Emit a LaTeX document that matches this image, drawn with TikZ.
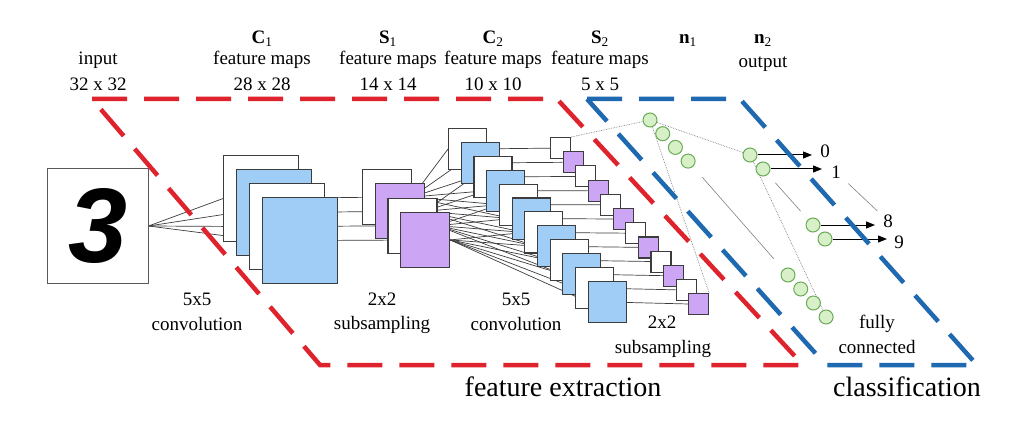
\documentclass[tikz,border=0pt]{standalone}
\usepackage{fontspec}
\setmainfont{Liberation Serif}
\newfontfamily\digitfont{Liberation Sans}
\usetikzlibrary{arrows.meta,backgrounds}
\definecolor{redline}{RGB}{222,35,45}
\definecolor{blueline}{RGB}{30,105,175}
\definecolor{mapblue}{RGB}{160,205,245}
\definecolor{mappurple}{RGB}{205,165,245}
\definecolor{cellgreen}{RGB}{215,240,200}
\definecolor{rimgreen}{RGB}{105,170,85}
\definecolor{framegray}{RGB}{60,60,60}

\begin{document}
\begin{tikzpicture}[x=1pt,y=-1pt,
  lbl/.style={font=\fontsize{19}{22}\selectfont,anchor=base},
  big/.style={font=\fontsize{28}{32}\selectfont,anchor=base},
  num/.style={font=\fontsize{19}{22}\selectfont,inner sep=0pt},
  fmap/.style={draw=framegray,line width=1.1pt,inner sep=0pt,anchor=north west},
  wire/.style={draw=framegray,line width=0.7pt},
  link/.style={draw=gray,line width=0.7pt,densely dotted},
  ellip/.style={draw=gray,line width=0.6pt,shorten <=14pt,shorten >=14pt},
  arrowline/.style={draw=black,line width=1pt,-{Triangle[length=9pt,width=7pt]}},
  neuron/.style={circle,draw=rimgreen,fill=cellgreen,line width=1pt,minimum size=14pt,inner sep=0pt},
  region/.style={line width=4.5pt,dash pattern=on 35pt off 17pt}]
\useasboundingbox (0,0) rectangle (1025,422);

% input image
\node[draw=black!65,line width=1pt,minimum width=101pt,minimum height=114pt,inner sep=0pt] (input) at (97.5,226)
  {\digitfont\bfseries\itshape\fontsize{106}{106}\selectfont 3};

% C1 and S1
\foreach \i in {1,...,4} {
  \ifodd\i \def\shade{white}\else\def\shade{mapblue}\fi
  \node[fmap,fill=\shade,minimum width=75pt,minimum height=86pt] (c1-\i) at ({223+13*(\i-1)},{155+14*(\i-1)}) {};
}
\foreach \i in {1,...,4} {
  \ifodd\i \def\shade{white}\else\def\shade{mappurple}\fi
  \node[fmap,fill=\shade,minimum width=49pt,minimum height=55pt] (s1-\i) at ({362+12.7*(\i-1)},{169+14.3*(\i-1)}) {};
}

% C2 and S2
\foreach \i in {1,...,12} {
  \ifodd\i \def\shade{white}\else\def\shade{mapblue}\fi
  \node[fmap,fill=\shade,minimum width=38pt,minimum height=41pt] (c2-\i) at ({448+12.7*(\i-1)},{128+13.9*(\i-1)}) {};
}
\foreach \i in {1,...,12} {
  \ifodd\i \def\shade{white}\else\def\shade{mappurple}\fi
  \node[fmap,fill=\shade,minimum width=20pt,minimum height=21pt] (s2-\i) at ({550+12.55*(\i-1)},{137+14.2*(\i-1)}) {};
}

% n1 and n2
\foreach \i in {1,...,4}
  \node[neuron] (h\i) at ({650+12.7*(\i-1)},{120+13.7*(\i-1)}) {};
\foreach \i in {5,...,8}
  \node[neuron] (h\i) at ({788+12.7*(\i-5)},{275+14*(\i-5)}) {};
\node[neuron] (o0) at (750,155) {};
\node[neuron] (o1) at (763,169) {};
\node[neuron] (o8) at (813,225) {};
\node[neuron] (o9) at (825,239) {};

\node[num] (d0) at (825,151) {0};
\node[num] (d1) at (836,172) {1};
\node[num] (d8) at (888,221) {8};
\node[num] (d9) at (899,242) {9};
\coordinate (t0) at (812,155);
\coordinate (t1) at (822,169);
\coordinate (t8) at (875,225);
\coordinate (t9) at (887,239);
\draw[arrowline] (o0) -- (t0);
\draw[arrowline] (o1) -- (t1);
\draw[arrowline] (o8) -- (t8);
\draw[arrowline] (o9) -- (t9);

\begin{scope}[on background layer]
  \foreach \i in {1,...,4} \draw[wire] (input.east) -- (c1-\i.west);
  \foreach \i in {1,...,4} \draw[wire] (c1-\i) -- (s1-\i);
  \foreach \j/\a/\b in {1/1/6,2/3/8,3/5/10,4/7/12}
    \foreach \i in {\a,...,\b} \draw[wire] (s1-\j.east) -- (c2-\i.west);
  \foreach \i in {1,...,12} \draw[wire] (c2-\i) -- (s2-\i);
  \draw[link] (s2-1.north east) -- (h1);
  \draw[link] (s2-12.north east) -- (h1);
  \draw[link] (h1) -- (o0);
  \draw[link] (o0) -- (h8);
  \draw[ellip] (h4) -- (h5);
  \draw[ellip,shorten <=11pt,shorten >=11pt] (o1) -- (o8);
  \draw[ellip,shorten <=10pt,shorten >=8pt] (d1) -- (d8);
\end{scope}

% labels on top
\node[lbl] (inp) at (98,65) {input};
\node[lbl] (inpsz) at (98,91) {32 x 32};
\foreach \x/\hd/\sz [count=\k] in {262/{\textbf{C}\textsubscript{1}}/28 x 28,
    388/{\textbf{S}\textsubscript{1}}/14 x 14, 493/{\textbf{C}\textsubscript{2}}/10 x 10,
    600/{\textbf{S}\textsubscript{2}}/5 x 5} {
  \node[lbl] (head\k) at (\x,44) {\hd};
  \node[lbl] (fm\k) at (\x,65) {feature maps};
  \node[lbl] (dim\k) at (\x,91) {\sz};
}
\node[lbl] (n1) at (688,44) {\textbf{n}\textsubscript{1}};
\node[lbl] (n2) at (763,44) {\textbf{n}\textsubscript{2}};
\node[lbl] (outp) at (763,68) {output};

\node[lbl] (k1) at (197,305) {5x5};
\node[lbl] (op1) at (197,330) {convolution};
\node[lbl] (k2) at (382,305) {2x2};
\node[lbl] (op2) at (382,329) {subsampling};
\node[lbl] (k3) at (516,305) {5x5};
\node[lbl] (op3) at (516,330) {convolution};
\node[lbl] (k4) at (662,328) {2x2};
\node[lbl] (op4) at (663,353) {subsampling};
\node[lbl] (fc1) at (877,328) {fully};
\node[lbl] (fc2) at (877,353) {connected};

% the two stages
\draw[region,redline] (92,99) -- (557,99) -- (803,365) -- (320,365) -- cycle;
\draw[region,blueline] (587,99) -- (740,99) -- (977,365) -- (826,365) -- cycle;
\node[big] (fe) at (563,396) {feature extraction};
\node[big] (cl) at (907,396) {classification};
\end{tikzpicture}
\end{document}
